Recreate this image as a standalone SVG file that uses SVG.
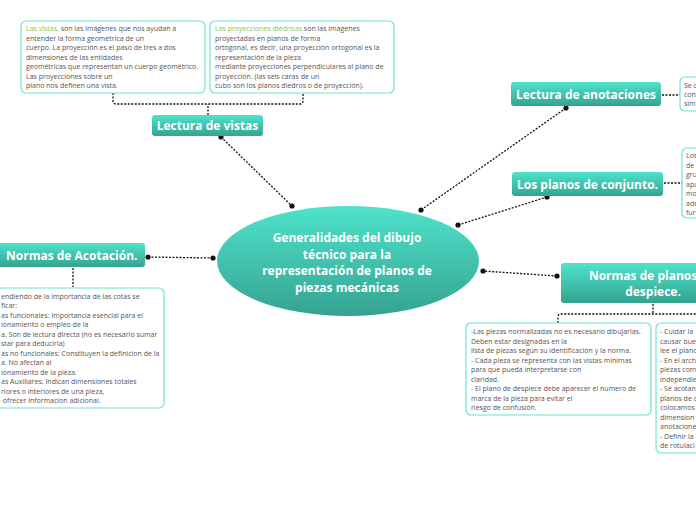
<svg xmlns="http://www.w3.org/2000/svg" width="696" height="520" viewBox="0 0 696 520">
<defs>
<linearGradient id="g" x1="0" y1="0" x2="0" y2="1">
<stop offset="0" stop-color="#4ee3cb"/>
<stop offset="1" stop-color="#35a390"/>
</linearGradient>
<style>
.n{fill:url(#g);}
.t{font-family:"Open Sans","Noto Sans",sans-serif;font-weight:bold;fill:#fff;font-size:12px;}
.b{fill:#fff;stroke:#6fe3cf;stroke-width:1.2;}
.s{font-family:"Open Sans","Noto Sans",sans-serif;font-size:7px;fill:#555;}
.gr{fill:#8bc34a;}
.c{fill:none;stroke:#111;stroke-width:1.3;stroke-dasharray:2 1.5;}
.d{fill:#111;}
</style>
</defs>
<rect width="696" height="520" fill="#fff"/>
<g id="connectors">
<path class="c" d="M221,137 L292,206"/>
<path class="c" d="M566,108 L421,210"/>
<path class="c" d="M547,197 L458,225"/>
<path class="c" d="M557,276 L483,271"/>
<path class="c" d="M148,257 L213,258"/>
<path class="c" d="M208,115 V104 M113,93 V101 Q113,104 116,104 H300 Q303,104 303,101 V93"/>
<path class="c" d="M662,95 H680"/>
<path class="c" d="M664,183 H682"/>
<path class="c" d="M653,304 V314 M558,323 V317 Q558,314 561,314 H696"/>
<path class="c" d="M73,268 V287"/>
<circle class="d" cx="221" cy="137" r="2.6"/>
<circle class="d" cx="292" cy="206" r="2.6"/>
<circle class="d" cx="566" cy="108" r="2.6"/>
<circle class="d" cx="421" cy="210" r="2.6"/>
<circle class="d" cx="547" cy="197" r="2.6"/>
<circle class="d" cx="458" cy="225" r="2.6"/>
<circle class="d" cx="557" cy="276" r="2.6"/>
<circle class="d" cx="483" cy="271" r="2.6"/>
<circle class="d" cx="148" cy="257" r="2.6"/>
<circle class="d" cx="213" cy="258" r="2.6"/>
</g>
<g id="central">
<ellipse class="n" cx="348" cy="261" rx="131" ry="55"/>
<text class="t" text-anchor="middle" x="347"><tspan x="347" y="242">Generalidades del dibujo</tspan><tspan x="347" y="259">técnico para la</tspan><tspan x="347" y="275">representación de planos de</tspan><tspan x="347" y="292">piezas mecánicas</tspan></text>
</g>
<g id="lectura-vistas">
<rect class="n" x="152" y="115" width="111" height="21" rx="3"/>
<text class="t" x="207.5" y="130" text-anchor="middle">Lectura de vistas</text>
</g>
<g id="box-vistas">
<rect class="b" x="21" y="21" width="184" height="72" rx="5"/>
<text class="s"><tspan x="26" y="31"><tspan class="gr">Las vistas,</tspan> son las imágenes que nos ayudan a</tspan><tspan x="26" y="40.5">entender la forma geométrica de un</tspan><tspan x="26" y="50">cuerpo. La proyección es el paso de tres a dos</tspan><tspan x="26" y="59.5">dimensiones de las entidades</tspan><tspan x="26" y="69">geométricas que representan un cuerpo geométrico.</tspan><tspan x="26" y="78.5">Las proyecciones sobre un</tspan><tspan x="26" y="88">plano nos definen una vista.</tspan></text>
</g>
<g id="box-diedricas">
<rect class="b" x="210" y="21" width="184" height="72" rx="5"/>
<text class="s"><tspan x="215" y="31"><tspan class="gr">Las proyecciones diédricas</tspan> son las imágenes</tspan><tspan x="215" y="40.5">proyectadas en planos de forma</tspan><tspan x="215" y="50">ortogonal, es decir, una proyección ortogonal es la</tspan><tspan x="215" y="59.5">representación de la pieza</tspan><tspan x="215" y="69">mediante proyecciones perpendiculares al plano de</tspan><tspan x="215" y="78.5">proyección. (las seis caras de un</tspan><tspan x="215" y="88">cubo son los planos diedros o de proyección).</tspan></text>
</g>
<g id="lectura-anotaciones">
<rect class="n" x="511" y="82" width="150" height="24" rx="3"/>
<text class="t" x="586" y="99" text-anchor="middle">Lectura de anotaciones</text>
</g>
<g id="box-anotaciones">
<rect class="b" x="680" y="77" width="30" height="34" rx="5"/>
<text class="s"><tspan x="684" y="88">Se c</tspan><tspan x="684" y="97">con</tspan><tspan x="684" y="106">sim</tspan></text>
</g>
<g id="planos-conjunto">
<rect class="n" x="512" y="172" width="151" height="24" rx="3"/>
<text class="t" x="587.5" y="189" text-anchor="middle">Los planos de conjunto.</text>
</g>
<g id="box-conjunto">
<rect class="b" x="682" y="148" width="30" height="70" rx="5"/>
<text class="s"><tspan x="686" y="158">Los</tspan><tspan x="686" y="167.5">de</tspan><tspan x="686" y="177">gru</tspan><tspan x="686" y="186.5">apa</tspan><tspan x="686" y="196">mo</tspan><tspan x="686" y="205.5">ade</tspan><tspan x="686" y="215">fur</tspan></text>
</g>
<g id="normas-despiece">
<rect class="n" x="561" y="263" width="190" height="40" rx="3"/>
<text class="t" text-anchor="middle"><tspan x="652" y="280">Normas de planos de</tspan><tspan x="653" y="296">despiece.</tspan></text>
</g>
<g id="box-despiece-1">
<rect class="b" x="466" y="323" width="185" height="92" rx="5"/>
<text class="s"><tspan x="471" y="334">-Las piezas normalizadas no es necesario dibujarlas.</tspan><tspan x="471" y="343.5">Deben estar designadas en la</tspan><tspan x="471" y="353">lista de piezas según su identificación y la norma.</tspan><tspan x="471" y="362.5">- Cada pieza se representa con las vistas mínimas</tspan><tspan x="471" y="372">para que pueda interpretarse con</tspan><tspan x="471" y="381.5">claridad.</tspan><tspan x="471" y="391">- El plano de despiece debe aparecer el numero de</tspan><tspan x="471" y="400.5">marca de la pieza para evitar el</tspan><tspan x="471" y="410">riesgo de confusión.</tspan></text>
</g>
<g id="box-despiece-2">
<rect class="b" x="656" y="323" width="60" height="130" rx="5"/>
<text class="s"><tspan x="660" y="334"> - Cuidar la</tspan><tspan x="660" y="343.5">causar bue</tspan><tspan x="660" y="353">lee el plano</tspan><tspan x="660" y="362.5">- En el arch</tspan><tspan x="660" y="372">piezas com</tspan><tspan x="660" y="381.5">independie</tspan><tspan x="660" y="391">- Se acotan</tspan><tspan x="660" y="400.5">planos de c</tspan><tspan x="660" y="410">colocamos</tspan><tspan x="660" y="419.5">dimension</tspan><tspan x="660" y="429">anotacione</tspan><tspan x="660" y="438.5">- Definir la</tspan><tspan x="660" y="448">de rotulaci</tspan></text>
</g>
<g id="normas-acotacion">
<rect class="n" x="-5" y="243" width="150" height="24" rx="3"/>
<text class="t" x="6" y="260">Normas de Acotación.</text>
</g>
<g id="box-acotacion">
<rect class="b" x="-20" y="288" width="184" height="120" rx="5"/>
<text class="s"><tspan x="1" y="298.5">endiendo de la importancia de las cotas se</tspan><tspan x="1" y="308">ficar:</tspan><tspan x="1" y="317.5">as funcionales: Importancia esencial para el</tspan><tspan x="1" y="327">ionamiento o empleo de la</tspan><tspan x="1" y="336.5">a. Son de lectura directa (no es necesario sumar</tspan><tspan x="1" y="346">star para deducirla)</tspan><tspan x="1" y="355.5">as no funcionales: Constituyen la definicion de la</tspan><tspan x="1" y="365">a. No afectan al</tspan><tspan x="1" y="374.5">ionamiento de la pieza.</tspan><tspan x="1" y="384">as Auxiliares: Indican dimensiones totales</tspan><tspan x="1" y="393.5">riores o interiores de una pieza,</tspan><tspan x="1" y="403"> ofrecer informacion adicional.</tspan></text>
</g>
</svg>
